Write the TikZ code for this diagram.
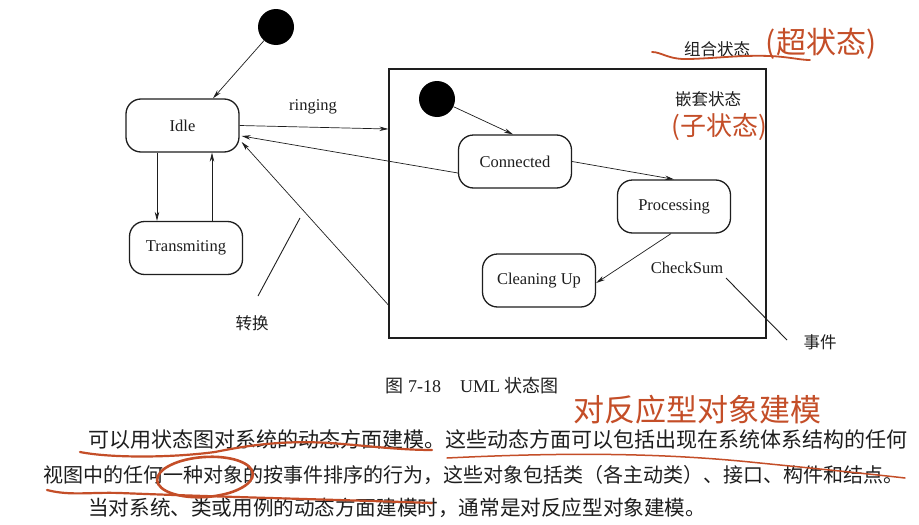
\documentclass[tikz,border=0pt]{standalone}
\usepackage{fontspec}
\setmainfont{Liberation Serif}
\newfontfamily\cjk{Noto Sans CJK SC}
\usetikzlibrary{arrows.meta}
\definecolor{pen}{RGB}{196,78,40}
\definecolor{ink}{RGB}{30,30,30}
\begin{document}
\begin{tikzpicture}[x=1pt,y=-1pt,
  state/.style={draw=ink, line width=1.3pt, rounded corners=15pt, minimum width=113pt, minimum height=53pt, inner sep=0pt, font=\fontsize{16.5}{18}\selectfont, text=ink, fill=white},
  initst/.style={circle, fill=black, minimum size=36pt, inner sep=0pt},
  arr/.style={-{Stealth[length=9pt,width=4.5pt]}, line width=0.7pt, draw=ink},
  plain/.style={line width=0.9pt, draw=ink},
  lbl/.style={font=\fontsize{16.5}{18}\selectfont, text=ink, inner sep=0pt},
  cjklbl/.style={font=\cjk\fontsize{16.5}{18}\selectfont, text=ink, inner sep=0pt},
  hand/.style={text=pen, inner sep=0pt},
  redline/.style={draw=pen, line width=2.2pt, line cap=round, line join=round},
  para/.style={text=ink, inner sep=0pt, anchor=west},
]
\fill[white] (0,0) rectangle (919,525);
\useasboundingbox (0,0) rectangle (919,525);

% composite state
\node[draw=ink, line width=1.3pt, minimum width=377pt, minimum height=269pt, inner sep=0pt] (comp) at (577.5,203.5) {};

% states
\node[initst] (init1) at (276,27) {};
\node[state] (idle) at (182.5,125.5) {Idle};
\node[state] (trans) at (186,248) {Transmiting};
\node[initst] (init2) at (437,99) {};
\node[state] (conn) at (515,161.5) {Connected};
\node[state] (proc) at (674,206.5) {Processing};
\node[state] (clean) at (539,280.5) {Cleaning Up};

% labels
\node[lbl] (ringing) at (313,107) {ringing};
\node[lbl] (checksum) at (687,268) {CheckSum};
\node[cjklbl] (nested) at (708,99) {嵌套状态};
\node[cjklbl] (composite) at (717,49) {组合状态};
\node[cjklbl] (zhuanhuan) at (252,323) {转换};
\node[cjklbl] (shijian) at (820,342) {事件};
\coordinate (zhA) at (300,218);
\coordinate (zhB) at (258,296);
\coordinate (sjA) at (726,278);
\coordinate (sjB) at (787,340);

% transitions
\draw[arr] (init1) -- ([xshift=30.5pt]idle.north);
\draw[arr] ([xshift=-25.5pt]idle.south) -- ([xshift=-25.5pt]idle.south |- trans.north);
\draw[arr] ([xshift=29.5pt]idle.south |- trans.north) -- ([xshift=29.5pt]idle.south);
\draw[arr] (idle.east) -- ([yshift=74.5pt]comp.west);
\draw[arr] ([yshift=-11.5pt]conn.west) -- ([yshift=-10.5pt,xshift=2pt]idle.east);
\draw[arr] ([yshift=-101.5pt]comp.west) -- ([yshift=-16.5pt,xshift=2pt]idle.east);
\draw[arr] (init2) -- ([xshift=-2pt]conn.north);
\draw[arr] (conn.east) -- (proc.north);
\draw[arr] ([xshift=-3pt]proc.south) -- ([yshift=-2.5pt]clean.east);

% pointer lines
\draw[plain] (zhA) -- (zhB);
\draw[plain] (sjA) -- (sjB);

% caption
\node[para, font=\fontsize{18}{20}\selectfont] (caption) at (385,386) {{\cjk 图}\hspace{5pt}7-18\hspace{19pt}UML {\cjk 状态图}};

% paragraph
\node[para, font=\cjk\fontsize{21}{24}\selectfont] (p1) at (88,440) {可以用状态图对系统的动态方面建模。这些动态方面可以包括出现在系统体系结构的任何};
\node[para, font=\cjk\fontsize{20}{24}\selectfont] (p2) at (43,475) {视图中的任何一种对象的按事件排序的行为，这些对象包括类（各主动类）、接口、构件和结点。};
\node[para, font=\cjk\fontsize{20.6}{24}\selectfont] (p3) at (88,508) {当对系统、类或用例的动态方面建模时，通常是对反应型对象建模。};

% handwritten annotations
\node[hand, font=\cjk\fontsize{30}{32}\selectfont] (super) at (821,44) {(超状态)};
\node[hand, font=\cjk\fontsize{26}{28}\selectfont] (sub) at (719,127) {(子状态)};
\node[hand, font=\cjk\fontsize{31}{33}\selectfont] (note) at (697,410) {对反应型对象建模};

\draw[redline, line width=1.8pt] (652,52) .. controls (662,52) and (668,60) .. (690,59) .. controls (720,58) and (740,55) .. (770,56) .. controls (790,57) and (800,60) .. (810,60);
\draw[redline] (80,452) .. controls (110,458) and (170,458) .. (215,452) .. controls (245,446) and (280,440) .. (330,443) .. controls (370,446) and (400,450) .. (432,450);
\draw[redline, line width=1.5pt] (447,458) .. controls (550,453) and (650,452) .. (750,462) .. controls (820,469) and (870,474) .. (905,478);
\draw[redline] (47,490) .. controls (70,496) and (90,492) .. (120,493) .. controls (220,497) and (350,500) .. (432,503);
\draw[redline, line width=2.6pt, rotate around={4:(205,477)}] (205,477) ellipse [x radius=48, y radius=20];
\end{tikzpicture}
\end{document}
